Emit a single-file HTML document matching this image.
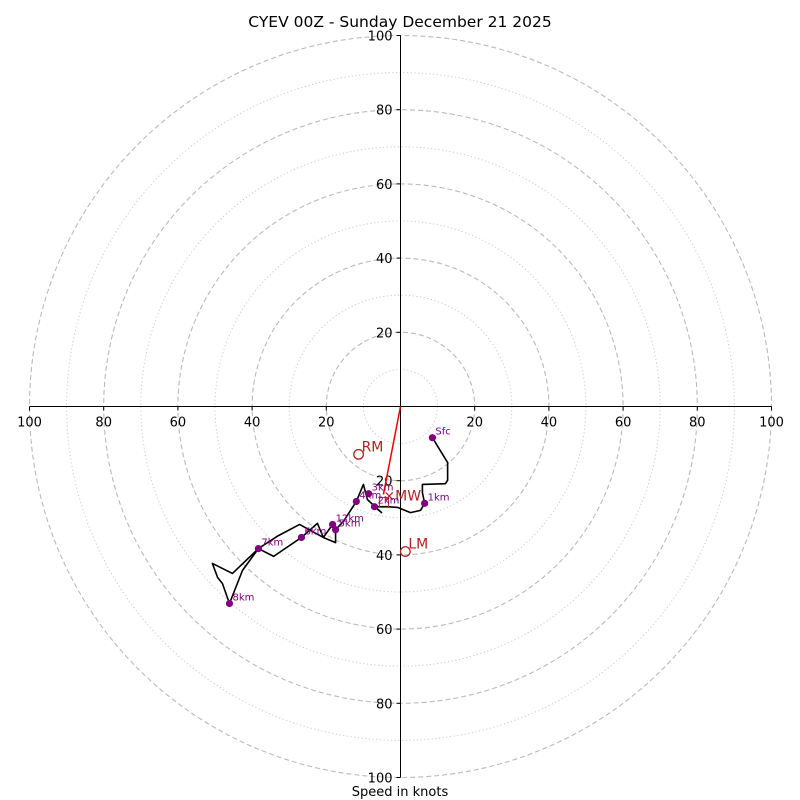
<!DOCTYPE html>
<html><head><meta charset="utf-8"><style>
body{margin:0;background:#fff}
svg{display:block;font-family:"DejaVu Sans","Liberation Sans",sans-serif}
</style></head><body>
<svg id="c" width="800" height="800">
<text x="400" y="27" text-anchor="middle" font-size="15.5">CYEV 00Z - Sunday December 21 2025</text>
<text x="400" y="796" text-anchor="middle" font-size="13">Speed in knots</text>
</svg>
<script>
const ringSpeeds=[10,20,30,40,50,60,70,80,90,100];
const tickLabels=["100","80","60","40","20","","20","40","60","80","100"];
const tickValues=[-100,-80,-60,-40,-20,0,20,40,60,80,100];
const traceU=[8.6,12.7,12.7,12.1,5.9,5.9,6.5,5.4,2.7,-0.8,-3.5,-7.0,-5.1,-8.9,-10.0,-11.9,-15.4,-17.5,-17.5,-20.8,-22.4,-26.7,-34.2,-38.3,-45.3,-50.7,-49.3,-48.0,-46.1,-42.6,-38.3,-32.9,-27.2,-24.3,-20.8,-18.3];
const traceV=[-8.4,-15.1,-19.9,-20.8,-21.0,-23.2,-26.1,-28.0,-28.6,-27.2,-27.0,-27.0,-28.6,-25.1,-21.0,-25.6,-31.0,-33.2,-36.7,-35.3,-31.5,-35.3,-40.4,-38.3,-45.0,-42.3,-46.1,-47.7,-53.1,-44.2,-38.3,-34.8,-31.8,-33.4,-35.3,-31.8];
const markerLabels=["Sfc","1km","2km","3km","4km","5km","6km","7km","8km","12km"];
const markerU=[8.6,6.5,-7.0,-8.6,-11.9,-17.5,-26.7,-38.3,-46.1,-18.3];
const markerV=[-8.4,-26.1,-27.0,-23.5,-25.6,-33.2,-35.3,-38.3,-53.1,-31.8];
const motionLabels=["RM","LM"];
const motionU=[-11.3,1.3];
const motionV=[-12.9,-39.1];
const mwU=-4.6, mwV=-23.7;

const NS="http://www.w3.org/2000/svg";
const svg=document.getElementById('c');
const cx=400.5, cy=406.5, K=3.71;
const sx=u=>cx+u*K, sy=v=>cy-v*K;
function mk(t,a,p){const e=document.createElementNS(NS,t);for(const k in a)e.setAttribute(k,a[k]);(p||svg).appendChild(e);return e;}
const g=mk('g',{});


ringSpeeds.forEach(s=>{
  const c=mk('circle',{cx:cx,cy:cy,r:s*K,fill:'none',stroke:s%20?'#ccc':'#bbb','stroke-width':s%20?1:1.1,'stroke-dasharray':s%20?'1.2,2.5':'5,3'},g);
  
  
});
let e=mk('line',{x1:sx(-100),y1:cy,x2:sx(100),y2:cy,stroke:'#000','stroke-width':1});


e=mk('line',{x1:cx,y1:sy(100),x2:cx,y2:sy(-100),stroke:'#000','stroke-width':1});


tickValues.forEach((v,i)=>{
  if(!tickLabels[i])return;
  let t=mk('line',{x1:sx(v),y1:cy,x2:sx(v),y2:cy+4,stroke:'#000'});
  
  
  t=mk('text',{x:sx(v),y:cy+20,'text-anchor':'middle','font-size':13});
  t.textContent=tickLabels[i];
  
  
  t=mk('line',{x1:cx-4,y1:sy(-v),x2:cx,y2:sy(-v),stroke:'#000'});
  
  
  t=mk('text',{x:cx-8,y:sy(-v)+5,'text-anchor':'end','font-size':13});
  t.textContent=tickLabels[i];
  
  
});
e=mk('polyline',{points:traceU.map((u,i)=>sx(u)+','+sy(traceV[i])).join(' '),fill:'none',stroke:'#000','stroke-width':1.6,'stroke-linejoin':'round'});


e=mk('line',{x1:cx,y1:cy,x2:sx(mwU),y2:sy(mwV),stroke:'#e00','stroke-width':1.5});


e=mk('rect',{x:sx(mwU)-4,y:sy(mwV)+3,width:9,height:10,fill:'none',stroke:'#c22','stroke-width':1});


e=mk('text',{x:sx(mwU),y:sy(mwV)+6,'font-size':14,fill:'#b22222'});
e.textContent='×MW';


markerLabels.forEach((l,i)=>{
  let c=mk('circle',{cx:sx(markerU[i]),cy:sy(markerV[i]),r:3.6,fill:'#800080'});
  
  
  let t=mk('text',{x:sx(markerU[i])+3,y:sy(markerV[i])-3,'font-size':10,fill:'#800080'});
  t.textContent=l;
  
  
});
motionLabels.forEach((l,i)=>{
  let c=mk('circle',{cx:sx(motionU[i]),cy:sy(motionV[i]),r:4.8,fill:'none',stroke:'#b22222','stroke-width':1.3});
  
  
  let t=mk('text',{x:sx(motionU[i])+3,y:sy(motionV[i])-3,'font-size':14,fill:'#b22222'});
  t.textContent=l;
  
  
});
</script>
</body></html>
